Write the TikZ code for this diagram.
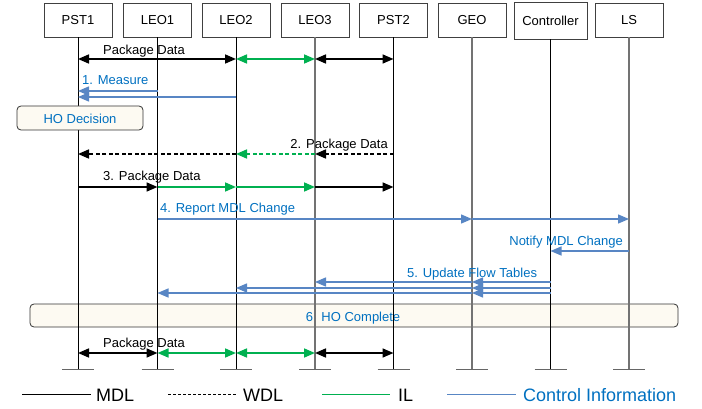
\documentclass[tikz,border=0pt]{standalone}
\usepackage{fontspec}
\setmainfont{Liberation Sans}
\usetikzlibrary{arrows.meta}
\definecolor{ctrlblue}{RGB}{88,134,196}
\definecolor{txtblue}{RGB}{0,112,192}
\definecolor{ilgreen}{RGB}{0,176,80}
\definecolor{notefill}{RGB}{253,250,242}
\begin{document}
\begin{tikzpicture}[x=1pt,y=-1pt,
  font=\fontsize{13}{15}\selectfont,
  >={Triangle[length=11pt,width=9pt]},
  hdr/.style={draw=black!75, line width=0.8pt, fill=white, minimum width=68pt, minimum height=34pt, inner sep=0pt},
  lifeblk/.style={line width=0.9pt, draw=black},
  lifegry/.style={line width=1.1pt, draw=black!55},
  tick/.style={line width=1pt, draw=black!60},
  mdl/.style={line width=1.6pt, draw=black},
  wdl/.style={line width=1.6pt, draw=black, dash pattern=on 4pt off 2.5pt},
  il/.style={line width=1.6pt, draw=ilgreen},
  ilw/.style={line width=1.6pt, draw=ilgreen, dash pattern=on 4pt off 2.5pt},
  ctl/.style={line width=1.3pt, draw=ctrlblue},
  lbl/.style={inner sep=0pt, anchor=base west},
  lble/.style={inner sep=0pt, anchor=base east},
  blue lbl/.style={lbl, text=txtblue},
  note/.style={draw=black!80, line width=0.8pt, fill=notefill, rounded corners=4pt, text=txtblue, inner sep=0pt},
  legtxt/.style={inner sep=0pt, anchor=base west, font=\fontsize{18}{21}\selectfont}
]
\useasboundingbox (0,0) rectangle (702,409);

% header boxes
\node[hdr] (pst1) at (78,20) {PST1};
\node[hdr] (leo1) at (157.5,20) {LEO1};
\node[hdr] (leo2) at (236,20) {LEO2};
\node[hdr] (leo3) at (315,20) {LEO3};
\node[hdr] (pst2) at (393.5,20) {PST2};
\node[hdr] (geo) at (472,20) {GEO};
\node[hdr, minimum width=73pt, minimum height=37pt] (ctrl) at (550.5,20.5) {Controller};
\node[hdr] (ls) at (629,20) {LS};

% HO Complete note (behind lifelines)
\node[note, minimum width=648pt, minimum height=23pt] (hoc) at (354,315.5) {};
\node[blue lbl, anchor=base] (hoct) at (353,321) {6. HO Complete};

% lifelines
\foreach \n/\s in {pst1/lifeblk, leo1/lifeblk, leo2/lifeblk, leo3/lifegry, pst2/lifeblk, geo/lifegry, ctrl/lifeblk, ls/lifegry} {
  \path (\n |- 0,369) coordinate (\n-end);
  \draw[\s] (\n.south) -- (\n-end);
  \draw[tick] ([xshift=-16pt]\n-end) -- ([xshift=16pt]\n-end);
}

% row 1: Package Data
\draw[mdl,<->] (pst1 |- 0,59) -- (leo2 |- 0,59);
\draw[il,<->] (leo2 |- 0,59) -- (leo3 |- 0,59);
\draw[mdl,<->] (leo3 |- 0,59) -- (pst2 |- 0,59);
\node[lbl] (l1) at (103,55) {Package Data};

% 1. Measure
\draw[ctl,->] (leo1 |- 0,91) -- (pst1 |- 0,91);
\draw[ctl,->] (leo2 |- 0,97) -- (pst1 |- 0,97);
\node[blue lbl] (lm) at (82,85) {1. Measure};

% HO Decision
\node[note, minimum width=126pt, minimum height=24pt] (hod) at (80,118) {};
\node[blue lbl, anchor=base] (hodt) at (80,124) {HO Decision};

% row 2
\draw[wdl,->] (pst2 |- 0,154) -- (leo3 |- 0,154);
\draw[ilw,->] (leo3 |- 0,154) -- (leo2 |- 0,154);
\draw[wdl,->] (leo2 |- 0,154) -- (pst1 |- 0,154);
\node[lble] (l2) at (388,149) {2. Package Data};

% row 3
\draw[mdl,->] (pst1 |- 0,187) -- (leo1 |- 0,187);
\draw[il,->] (leo1 |- 0,187) -- (leo2 |- 0,187);
\draw[il,->] (leo2 |- 0,187) -- (leo3 |- 0,187);
\draw[mdl,->] (leo3 |- 0,187) -- (pst2 |- 0,187);
\node[lbl] (l3) at (103,181) {3. Package Data};

% row 4
\draw[ctl,->] (leo1 |- 0,219) -- (geo |- 0,219);
\draw[ctl,->] (geo |- 0,219) -- (ls |- 0,219);
\node[blue lbl] (l4) at (160,213) {4. Report MDL Change};

% notify
\draw[ctl,->] (ls |- 0,251) -- (ctrl |- 0,251);
\node[lble, text=txtblue] (ln) at (623,245) {Notify MDL Change};

% row 5
\draw[ctl,->] (ctrl |- 0,282) -- (geo |- 0,282);
\draw[ctl,->] (geo |- 0,282) -- (leo3 |- 0,282);
\draw[ctl,->] (ctrl |- 0,288) -- (geo |- 0,288);
\draw[ctl,->] (geo |- 0,288) -- (leo2 |- 0,288);
\draw[ctl,->] (ctrl |- 0,293) -- (geo |- 0,293);
\draw[ctl,->] (geo |- 0,293) -- (leo1 |- 0,293);
\node[blue lbl] (l5) at (407,277) {5. Update Flow Tables};

% last row
\draw[mdl,<->] (pst1 |- 0,353) -- (leo1 |- 0,353);
\draw[il,<->] (leo1 |- 0,353) -- (leo2 |- 0,353);
\draw[il,<->] (leo2 |- 0,353) -- (leo3 |- 0,353);
\draw[mdl,<->] (leo3 |- 0,353) -- (pst2 |- 0,353);
\node[lbl] (l6) at (103,347) {Package Data};

% legend
\coordinate (a1) at (22,394); \coordinate (a2) at (91,394);
\draw[line width=1pt, draw=black] (a1) -- (a2);
\node[legtxt] (t1) at (96,401) {MDL};
\coordinate (b1) at (168,394); \coordinate (b2) at (237,394);
\draw[line width=1pt, draw=black, dash pattern=on 3pt off 2pt] (b1) -- (b2);
\node[legtxt] (t2) at (243,401) {WDL};
\coordinate (c1) at (322,394); \coordinate (c2) at (390,394);
\draw[line width=1pt, draw=ilgreen] (c1) -- (c2);
\node[legtxt] (t3) at (398,401) {IL};
\coordinate (d1) at (447,394); \coordinate (d2) at (516,394);
\draw[line width=1pt, draw=ctrlblue] (d1) -- (d2);
\node[legtxt, text=txtblue] (t4) at (523,401) {Control Information};
\end{tikzpicture}
\end{document}
